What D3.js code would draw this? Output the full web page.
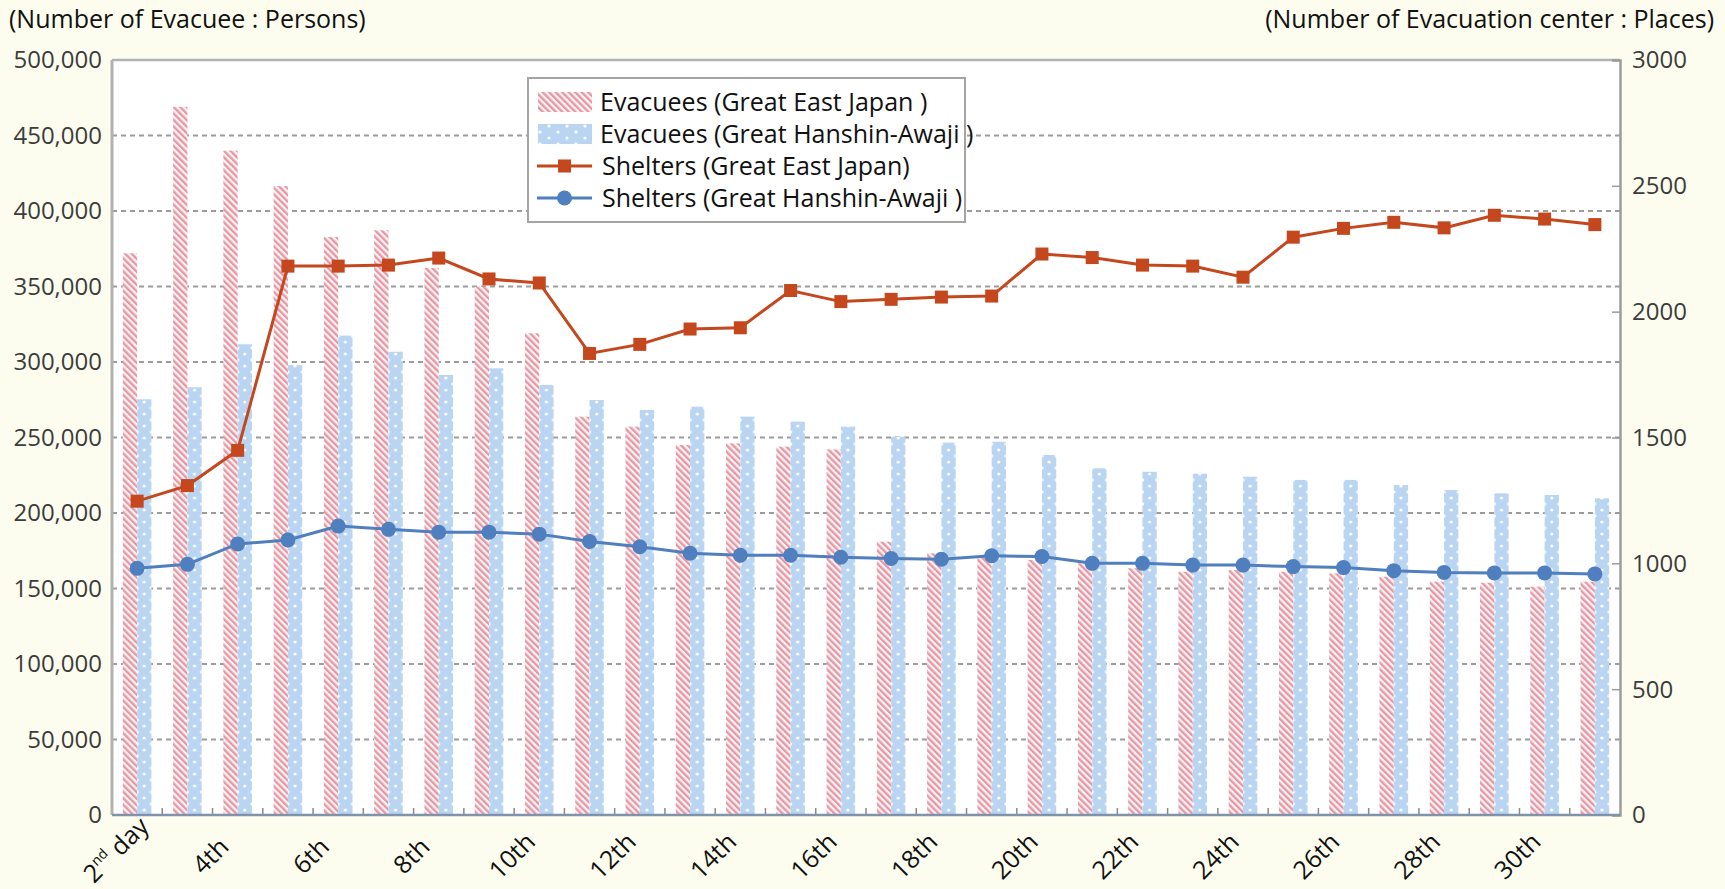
<!DOCTYPE html>
<html><head><meta charset="utf-8">
<script src="https://cdn.jsdelivr.net/npm/d3@7/dist/d3.min.js"></script>
<style>body{margin:0;background:#fdfdef;} svg{display:block}</style>
</head><body><svg id="c" width="1725" height="889"></svg>
<script>
// ---- data ----
const days = ["2","3","4","5","6","7","8","9","10","11","12","13","14","15","16","17","18","19","20","21","22","23","24","25","26","27","28","29","30","31"];
const evacueesEast = [372000,469000,440000,416500,382800,387200,362300,349900,319000,263800,257200,245000,246100,243900,242100,181000,173300,171000,168900,166700,163400,161100,162200,161100,160000,157800,154500,153800,151200,154500];
const evacueesHanshin = [275300,283300,311700,297900,317500,306800,291400,295800,284800,274800,268200,270400,263800,260500,257200,250500,246600,247200,238400,229600,227300,226000,224000,221900,221900,218500,215200,213000,211900,209700];
const sheltersEast = [1247,1309,1449,2181,2181,2185,2213,2130,2114,1834,1870,1931,1936,2084,2040,2049,2058,2062,2229,2215,2185,2181,2137,2296,2331,2355,2333,2383,2368,2346];
const sheltersHanshin = [980,996,1077,1093,1148,1135,1124,1124,1116,1087,1066,1040,1032,1032,1024,1019,1016,1030,1027,1000,1000,993,993,987,983,971,964,962,962,958];
const leftTicks = [0,50000,100000,150000,200000,250000,300000,350000,400000,450000,500000];
const rightTicks = [0,500,1000,1500,2000,2500,3000];
const xTickDays = ["2","4","6","8","10","12","14","16","18","20","22","24","26","28","30"];
const xTickLabels = ["2nd day","4th","6th","8th","10th","12th","14th","16th","18th","20th","22th","24th","26th","28th","30th"];
const seriesNames = ["Evacuees (Great East Japan )","Evacuees (Great Hanshin-Awaji )","Shelters (Great East Japan)","Shelters (Great Hanshin-Awaji )"];
const leftTitle = "(Number of Evacuee : Persons)";
const rightTitle = "(Number of Evacuation center : Places)";

// ---- layout ----
const ML = 112, MT = 60, W = 1508, H = 755;
const FONT = "'Open Sans'";
const svg = d3.select("#c");
svg.append("rect").attr("width",1725).attr("height",889).attr("fill","#fdfdef");

const x = d3.scaleBand().domain(days).range([0,W]).paddingInner(0).paddingOuter(0);
const step = x.step();
const bw = 14.3;
const y = d3.scaleLinear().domain([0,500000]).range([H,0]);
const y2 = d3.scaleLinear().domain([0,3000]).range([H,0]);

const defs = svg.append("defs");
const hatch = defs.append("pattern").attr("id","hatch").attr("patternUnits","userSpaceOnUse")
  .attr("width",4.6).attr("height",4.6).attr("patternTransform","rotate(-45)");
hatch.append("rect").attr("width",4.6).attr("height",4.6).attr("fill","#fdf2f3");
hatch.append("rect").attr("width",2.3).attr("height",4.6).attr("fill","#e597a3");

const dots = defs.append("pattern").attr("id","dots").attr("patternUnits","userSpaceOnUse")
  .attr("width",step).attr("height",12);
dots.append("rect").attr("width",step).attr("height",12).attr("fill","#b9d5f2");
dots.append("circle").attr("cx",step/2+bw/2).attr("cy",6).attr("r",1.6).attr("fill","#fff");
[step/2, step/2+bw].forEach(cx=>{
  [0,12].forEach(cy=>dots.append("circle").attr("cx",cx).attr("cy",cy).attr("r",1.8).attr("fill","#f4f9fe"));
});
const dotsL = defs.append("pattern").attr("id","dotsL").attr("patternUnits","userSpaceOnUse")
  .attr("width",18).attr("height",12);
dotsL.append("rect").attr("width",18).attr("height",12).attr("fill","#b9d5f2");
dotsL.append("circle").attr("cx",9).attr("cy",6).attr("r",1.6).attr("fill","#fff");
[[0,0],[18,0],[0,12],[18,12]].forEach(p=>dotsL.append("circle").attr("cx",p[0]).attr("cy",p[1]).attr("r",1.6).attr("fill","#fff"));

const g = svg.append("g").attr("transform",`translate(${ML},${MT})`);
g.append("rect").attr("width",W).attr("height",H).attr("fill","#fff");

// gridlines
g.selectAll(".grid").data(leftTicks.filter(t=>t>0 && t<500000)).join("line")
  .attr("x1",0).attr("x2",W).attr("y1",d=>y(d)).attr("y2",d=>y(d))
  .attr("stroke","#9c9c9c").attr("stroke-width",2).attr("stroke-dasharray","5,4");

// bars
const rows = days.map((d,i)=>({day:d,e:evacueesEast[i],h:evacueesHanshin[i],se:sheltersEast[i],sh:sheltersHanshin[i]}));
g.selectAll(".be").data(rows).join("rect")
  .attr("x",d=>x(d.day)+step/2-bw).attr("width",bw)
  .attr("y",d=>y(d.e)).attr("height",d=>H-y(d.e)).attr("fill","url(#hatch)");
g.selectAll(".bh").data(rows).join("rect")
  .attr("x",d=>x(d.day)+step/2).attr("width",bw)
  .attr("y",d=>y(d.h)).attr("height",d=>H-y(d.h)).attr("fill","url(#dots)");

// borders
g.append("line").attr("x1",0).attr("x2",W).attr("y1",0).attr("y2",0).attr("stroke","#b2b2b2").attr("stroke-width",2.5);
g.append("line").attr("x1",0).attr("x2",0).attr("y1",0).attr("y2",H).attr("stroke","#b2b2b2").attr("stroke-width",3);

// bottom ticks at band boundaries
g.selectAll(".xt").data(days.slice(1)).join("line")
  .attr("x1",d=>x(d)).attr("x2",d=>x(d)).attr("y1",H).attr("y2",H-7)
  .attr("stroke","#8a8a8a").attr("stroke-width",1.5);

// lines
const lineE = d3.line().x(d=>x(d.day)+step/2).y(d=>y2(d.se));
const lineH = d3.line().x(d=>x(d.day)+step/2).y(d=>y2(d.sh));
const cE = "#c4471d", cH = "#4f7fbe";
g.append("path").datum(rows).attr("d",lineE).attr("fill","none").attr("stroke",cE).attr("stroke-width",3);
g.append("path").datum(rows).attr("d",lineH).attr("fill","none").attr("stroke",cH).attr("stroke-width",3);
g.selectAll(".me").data(rows).join("rect")
  .attr("x",d=>x(d.day)+step/2-6.5).attr("y",d=>y2(d.se)-6.5).attr("width",13).attr("height",13).attr("fill",cE);
g.selectAll(".mh").data(rows).join("circle")
  .attr("cx",d=>x(d.day)+step/2).attr("cy",d=>y2(d.sh)).attr("r",7.5).attr("fill",cH);

// right axis
const ra = g.append("g").attr("transform",`translate(${W},0)`)
  .call(d3.axisRight(y2).tickValues(rightTicks).tickSize(-8).tickPadding(12).tickFormat(d3.format("d")));
ra.select(".domain").attr("stroke","#9c9c9c").attr("stroke-width",2.5);
ra.selectAll(".tick line").attr("stroke","#9c9c9c").attr("stroke-width",1.5);
ra.selectAll(".tick text").attr("font-family",FONT).attr("font-size",24).attr("fill","#3c3c3c").attr("dy","0.33em");

// left axis labels
const la = g.append("g").call(d3.axisLeft(y).tickValues(leftTicks).tickSize(0).tickPadding(10).tickFormat(d3.format(",")));
la.select(".domain").remove();
la.selectAll(".tick text").attr("font-family",FONT).attr("font-size",24).attr("fill","#3c3c3c").attr("dy","0.33em");

// bottom axis line
g.append("line").attr("x1",0).attr("x2",W).attr("y1",H).attr("y2",H).attr("stroke","#7f93ad").attr("stroke-width",2.5);

// x labels (rotated, centred under each odd category)
const xl = g.selectAll(".xl").data(xTickDays.map((d,i)=>({day:d,label:xTickLabels[i]}))).join("text")
  .attr("transform",d=>{
    const long = / day$/.test(d.label);
    const ax = x(d.day)+step/2-21 + (long?6:0), ay = H+47 - (long?6:0);
    return `translate(${ax},${ay}) rotate(-45)`;
  })
  .attr("text-anchor","middle").attr("font-family",FONT).attr("font-size",25).attr("fill","#111");
xl.each(function(d){
  const t = d3.select(this);
  const m = d.label.match(/^(\d+)(st|nd|rd|th) day$/);
  if(m){
    t.append("tspan").text(m[1]);
    t.append("tspan").text(m[2]).attr("font-size",14).attr("dy","-0.75em");
    t.append("tspan").text(" day").attr("dy","0.42em");
  } else t.text(d.label);
});

// titles
svg.append("text").attr("x",9).attr("y",28).attr("font-family",FONT).attr("font-size",25).attr("fill","#111").text(leftTitle);
svg.append("text").attr("x",1714).attr("y",28).attr("text-anchor","end").attr("font-family",FONT).attr("font-size",25).attr("fill","#111").text(rightTitle);

// legend
const lg = svg.append("g");
lg.append("rect").attr("x",528).attr("y",78).attr("width",437).attr("height",144).attr("fill","#fff").attr("stroke","#a4a4a4").attr("stroke-width",2);
const ly = [102,134,166,198];
lg.append("rect").attr("x",538).attr("y",ly[0]-10).attr("width",54).attr("height",20).attr("fill","url(#hatch)");
lg.append("rect").attr("x",538).attr("y",ly[1]-10).attr("width",54).attr("height",20).attr("fill","url(#dotsL)");
lg.append("line").attr("x1",537).attr("x2",592).attr("y1",ly[2]).attr("y2",ly[2]).attr("stroke",cE).attr("stroke-width",3);
lg.append("rect").attr("x",558).attr("y",ly[2]-6.5).attr("width",13).attr("height",13).attr("fill",cE);
lg.append("line").attr("x1",537).attr("x2",592).attr("y1",ly[3]).attr("y2",ly[3]).attr("stroke",cH).attr("stroke-width",3);
lg.append("circle").attr("cx",564.5).attr("cy",ly[3]).attr("r",7.5).attr("fill",cH);
lg.selectAll(".lt").data(seriesNames).join("text")
  .attr("x",(d,i)=>i<2?600:602).attr("y",(d,i)=>ly[i]).attr("dy","0.35em")
  .attr("font-family",FONT).attr("font-size",25).attr("fill","#111").text(d=>d);
</script></body></html>
